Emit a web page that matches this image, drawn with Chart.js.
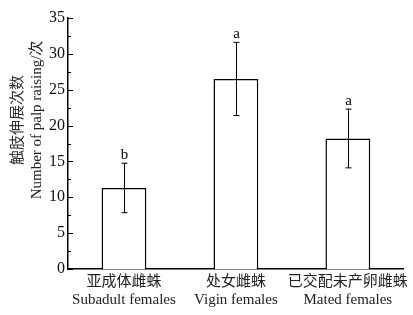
<!DOCTYPE html>
<html>
<head>
<meta charset="utf-8">
<script src="https://cdn.jsdelivr.net/npm/chart.js@4.4.0/dist/chart.umd.min.js"></script>
<style>
  html, body { margin: 0; padding: 0; background: #fff; }
  #wrap { width: 413px; height: 315px; }
</style>
</head>
<body>
<div id="wrap"><canvas id="palpChart" width="413" height="315"></canvas></div>
<script>
const groupsCn = ['亚成体雌蛛', '处女雌蛛', '已交配未产卵雌蛛'];
const groupsEn = ['Subadult females', 'Vigin females', 'Mated females'];
const meanRaising = [11.3, 26.5, 18.2];
const errRaising = [3.45, 5.1, 4.1];
const sigLetters = ['b', 'a', 'a'];
const yTickValues = [0, 5, 10, 15, 20, 25, 30, 35];

const serif = "'Liberation Serif', 'Times New Roman', 'Noto Sans CJK SC', serif";

// inward ticks, error bars, letters and the y title
const extrasPlugin = {
  id: 'extras',
  afterDatasetsDraw(chart) {
    const ctx = chart.ctx;
    const y = chart.scales.y;
    const left = chart.chartArea.left;
    ctx.save();
    ctx.strokeStyle = '#000';
    ctx.lineWidth = 1;

    // major and minor ticks pointing into the plot
    for (let v = 0; v <= 35; v += 2.5) {
      const py = Math.round(y.getPixelForValue(v)) + 0.5;
      const len = v % 5 === 0 ? 5 : 3;
      ctx.beginPath();
      ctx.moveTo(left, py);
      ctx.lineTo(left + len, py);
      ctx.stroke();
    }

    // error bars
    const meta = chart.getDatasetMeta(0);
    ctx.font = '15px ' + serif;
    ctx.fillStyle = '#000';
    ctx.textAlign = 'center';
    ctx.textBaseline = 'bottom';
    meta.data.forEach((bar, i) => {
      const cx = Math.round(bar.x) + 0.5;
      const top = y.getPixelForValue(meanRaising[i] + errRaising[i]);
      const bot = y.getPixelForValue(meanRaising[i] - errRaising[i]);
      ctx.beginPath();
      ctx.moveTo(cx, top);
      ctx.lineTo(cx, bot);
      ctx.moveTo(cx - 3, top);
      ctx.lineTo(cx + 3, top);
      ctx.moveTo(cx - 3, bot);
      ctx.lineTo(cx + 3, bot);
      ctx.stroke();
      ctx.fillText(sigLetters[i], cx, top - 1);
    });

    // two-line y title
    ctx.translate(0, 120);
    ctx.rotate(-Math.PI / 2);
    ctx.textBaseline = 'middle';
    ctx.font = "15px 'Noto Sans CJK SC', sans-serif";
    ctx.fillStyle = '#333';
    ctx.fillText('触肢伸展次数', 0, 16);
    ctx.font = '15px ' + serif;
    ctx.fillStyle = '#222';
    ctx.fillText('Number of palp raising/次', 0, 37);
    ctx.restore();
  }
};

new Chart(document.getElementById('palpChart'), {
  type: 'bar',
  data: {
    labels: groupsCn.map((cn, i) => [cn, groupsEn[i]]),
    datasets: [{
      data: meanRaising,
      backgroundColor: '#fff',
      borderColor: '#000',
      borderWidth: 1.5,
      barPercentage: 0.4,
      categoryPercentage: 1
    }]
  },
  options: {
    responsive: false,
    animation: false,
    layout: { padding: { left: 46, right: 7, top: 18, bottom: 2 } },
    plugins: { legend: { display: false }, tooltip: { enabled: false } },
    scales: {
      x: {
        grid: { display: false, drawTicks: false },
        border: { color: '#000', width: 1.5 },
        ticks: {
          color: '#222',
          padding: 4,
          font: { family: serif, size: 15 },
          maxRotation: 0,
          autoSkip: false
        }
      },
      y: {
        min: 0,
        max: 35,
        afterBuildTicks: (scale) => { scale.ticks = yTickValues.map(v => ({ value: v })); },
        grid: { display: false, drawTicks: false },
        border: { color: '#000', width: 1.5 },
        ticks: {
          color: '#111',
          padding: 3,
          font: { family: serif, size: 16 }
        }
      }
    }
  },
  plugins: [extrasPlugin]
});
</script>
</body>
</html>
